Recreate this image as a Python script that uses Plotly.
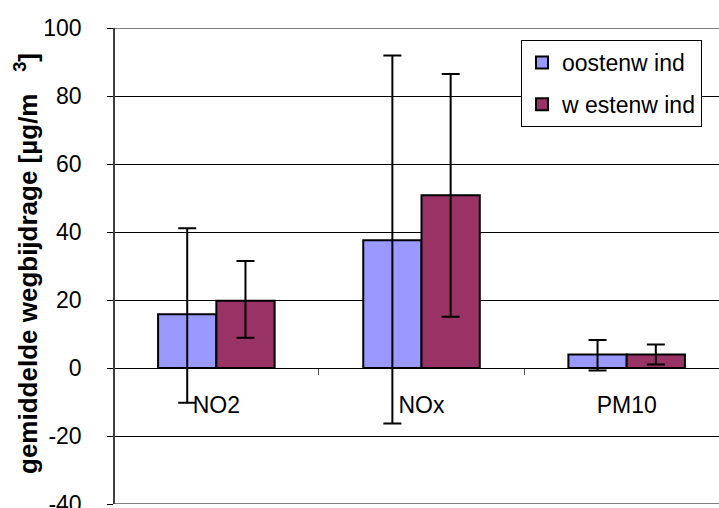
import plotly.graph_objects as go

categories = ["NO2", "NOx", "PM10"]
series_names = ["oostenw ind", "w estenw ind"]
oost_values = [15.8, 37.6, 4.0]
oost_err_plus = [25.3, 54.3, 4.2]
oost_err_minus = [26.0, 53.9, 4.7]
west_values = [19.8, 50.8, 4.0]
west_err_plus = [11.7, 35.7, 2.9]
west_err_minus = [10.9, 35.7, 3.0]
y_ticks = [-40, -20, 0, 20, 40, 60, 80, 100]

FONT = "Liberation Sans, Arial, sans-serif"

fig = go.Figure()
fig.add_trace(go.Bar(
    x=categories, y=oost_values, name=series_names[0], legendgroup="a",
    marker=dict(color="#9999FF", line=dict(color="black", width=2)),
    error_y=dict(type="data", symmetric=False, array=oost_err_plus,
                 arrayminus=oost_err_minus, color="black", thickness=2, width=9),
))
fig.add_trace(go.Bar(
    x=categories, y=west_values, name=series_names[1], legendgroup="b",
    marker=dict(color="#993366", line=dict(color="black", width=2)),
    error_y=dict(type="data", symmetric=False, array=west_err_plus,
                 arrayminus=west_err_minus, color="black", thickness=2, width=9),
))

fig.update_layout(
    width=719, height=508,
    margin=dict(l=115, r=0, t=28, b=4),
    paper_bgcolor="white", plot_bgcolor="white",
    barmode="group", bargap=0.432, bargroupgap=0,
    font=dict(family=FONT, size=23, color="black"),
    showlegend=True,
    legend=dict(
        x=(521 - 115) / 604, y=(504 - 40) / 476, xanchor="left", yanchor="top",
        bgcolor="white", bordercolor="black", borderwidth=1,
        font=dict(family=FONT, size=23, color="black"),
        itemsizing="constant", tracegroupgap=9, traceorder="grouped",
    ),
    xaxis=dict(
        type="category", range=[-0.494, 2.45],
        anchor="free", position=40 / 140, automargin=False,
        showline=True, linecolor="black", linewidth=1,
        ticks="outside", tickson="boundaries", ticklen=6, tickcolor="#555555",
        ticklabelstandoff=16,
        tickfont=dict(family=FONT, size=23, color="black"),
        showgrid=False, zeroline=False,
    ),
    yaxis=dict(
        range=[-40, 100], tickvals=y_ticks, ticktext=[str(v) for v in y_ticks],
        automargin=False, ticklabeloverflow="allow",
        showline=True, linecolor="#404040", linewidth=1.5,
        ticks="outside", ticklen=6, tickcolor="black",
        ticklabelstandoff=21,
        tickfont=dict(family=FONT, size=23, color="black"),
        showgrid=True, gridcolor="black", gridwidth=1,
        zeroline=True, zerolinecolor="black", zerolinewidth=1,
    ),
    shapes=[
        dict(type="line", xref="paper", yref="y", x0=0, x1=1, y0=100, y1=100,
             line=dict(color="#808080", width=2), layer="above"),
        dict(type="line", xref="paper", yref="y", x0=0, x1=1, y0=-40, y1=-40,
             line=dict(color="#808080", width=2), layer="above"),
    ],
    annotations=[
        dict(text="gemiddelde wegbijdrage [µg/m   <sup>3</sup>]",
             xref="paper", yref="paper", x=(26 - 115) / 604, y=(504 - 264) / 476,
             xanchor="center", yanchor="middle", textangle=-90, showarrow=False,
             font=dict(family=FONT, size=26, color="black", weight="bold")),
    ],
)

fig.write_html("out.html", config={"displayModeBar": False},
               post_script="document.body.style.margin='0';")
